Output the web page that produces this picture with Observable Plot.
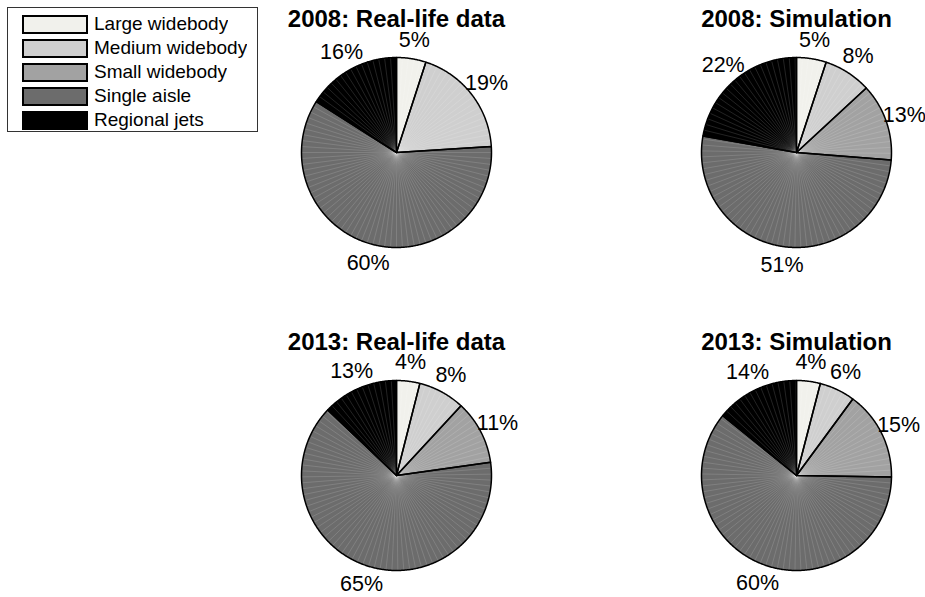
<!DOCTYPE html>
<html>
<head>
<meta charset="utf-8">
<script src="https://cdn.jsdelivr.net/npm/d3@7"></script>
<script src="https://cdn.jsdelivr.net/npm/@observablehq/plot@0.6"></script>
<style>
  body { margin: 0; background: #fff; }
  #chart { position: relative; width: 925px; height: 597px; font-family: "Liberation Sans", Arial, sans-serif; }
  #legend {
    position: absolute; left: 7px; top: 7px; width: 234px; height: 119px;
    padding: 4px 0 0 15px; border: 1px solid #333; background: #fff;
  }
  .lg-swatches { font-family: "Liberation Sans", Arial, sans-serif !important; font-size: 19px !important; margin: 0 !important; color: #000; }
  .lg-swatch { height: 24px !important; padding: 0 !important; }
  .lg-swatch svg { margin-right: 7px !important; overflow: visible; }
  .lg-swatch svg rect { stroke: #000; stroke-width: 2px; }
</style>
</head>
<body>
<div id="chart"><div id="legend"></div></div>
<script>
// Fleet mix by aircraft class, in percent
const categories = ["Large widebody", "Medium widebody", "Small widebody", "Single aisle", "Regional jets"];
const years = [2008, 2013];
const sources = ["Real-life data", "Simulation"];
const real2008 = [5, 19, 0, 60, 16];
const sim2008 = [5, 8, 13, 51, 22];
const real2013 = [4, 8, 11, 65, 13];
const sim2013 = [4, 6, 15, 60, 14];

const palette = ["#f1f1ec", "#cfcfcf", "#a2a2a2", "#6c6c6c", "#000000"];

const panels = [
  {year: 2008, source: "Real-life data", values: real2008},
  {year: 2008, source: "Simulation", values: sim2008},
  {year: 2013, source: "Real-life data", values: real2013},
  {year: 2013, source: "Simulation", values: sim2013}
];

// Slices run clockwise from twelve o'clock; each pie is a unit circle
const pie = d3.pie().sort(null).value(d => d.value).startAngle(0).endAngle(2 * Math.PI);
const slices = panels.flatMap(({year, source, values}) =>
  pie(values.map((value, i) => ({value, category: categories[i]})))
    .filter(a => a.data.value > 0)
    .map(a => ({
      year, source,
      category: a.data.category,
      value: a.data.value,
      a0: a.startAngle, a1: a.endAngle,
      id: `${year}|${source}|${a.data.category}`
    }))
);

// Wedge outlines: centre, arc, back to centre
const wedges = slices.flatMap(s => {
  const n = Math.max(2, Math.ceil((s.a1 - s.a0) / (Math.PI / 360)));
  const pts = [{...s, x: 0, y: 0}];
  for (let k = 0; k <= n; ++k) {
    const a = s.a0 + (s.a1 - s.a0) * k / n;
    pts.push({...s, x: Math.sin(a), y: Math.cos(a)});
  }
  pts.push({...s, x: 0, y: 0});
  return pts;
});

// Faint spokes giving the patch texture inside each wedge
const spokes = slices.flatMap(s =>
  d3.range(s.a0, s.a1, 2 * Math.PI / 100).map(a => ({...s, x: Math.sin(a), y: Math.cos(a)}))
);

// Percent labels centred outside the rim at each wedge's mid-angle
const labels = slices.map(s => {
  const a = (s.a0 + s.a1) / 2;
  return {...s, x: 1.2 * Math.sin(a), y: 1.2 * Math.cos(a), text: `${s.value}%`};
});

const R = 95; // pixels per unit radius
const font = "'Liberation Sans', Arial, sans-serif";

const chart = Plot.plot({
  width: 925,
  height: 597,
  marginLeft: 271,
  marginRight: 4,
  marginTop: 0,
  marginBottom: 0,
  style: {fontFamily: font, background: "transparent", overflow: "visible"},
  fx: {domain: sources, paddingInner: 0.375, paddingOuter: 0, round: false, axis: null},
  fy: {domain: years, paddingInner: 1 - 274 / 323, paddingOuter: 0, round: false, axis: null},
  x: {domain: [-125 / R, 125 / R], axis: null},
  y: {domain: [-122 / R, 152 / R], axis: null},
  color: {domain: categories, range: palette},
  marks: [
    Plot.line(wedges, {x: "x", y: "y", z: "id", fill: "category", stroke: "none", fx: "source", fy: "year"}),
    Plot.link(spokes, {x1: 0, y1: 0, x2: "x", y2: "y", stroke: "#fff", strokeOpacity: 0.2, strokeWidth: 0.7, fx: "source", fy: "year"}),
    Plot.line(wedges, {x: "x", y: "y", z: "id", fill: "none", stroke: "#000", strokeWidth: 1.5, fx: "source", fy: "year"}),
    Plot.text(labels, {x: "x", y: "y", text: "text", lineAnchor: "middle", fontSize: 21.5, fill: "#000", fx: "source", fy: "year"}),
    Plot.text(panels, {
      x: 0, frameAnchor: "top", dy: 26, lineAnchor: "bottom",
      text: d => `${d.year}: ${d.source}`,
      fontSize: 24, fontWeight: "bold", fill: "#000", fx: "source", fy: "year"
    })
  ]
});

document.getElementById("chart").appendChild(chart);

const legend = chart.legend("color", {
  legend: "swatches", columns: 1, swatchWidth: 64, swatchHeight: 17, className: "lg"
});
document.getElementById("legend").appendChild(legend);
</script>
</body>
</html>
